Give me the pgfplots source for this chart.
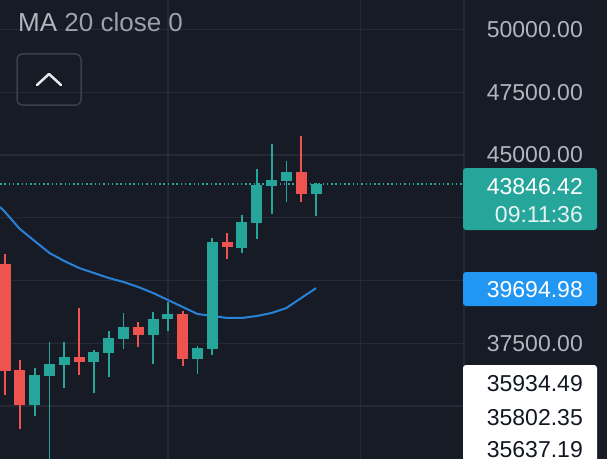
\documentclass[border=0pt]{standalone}
\usepackage{fontspec}
\setmainfont{Liberation Sans}
\usepackage{pgfplots}
\usepackage{pgfplotstable}
\pgfplotsset{compat=1.18}
\definecolor{bg}{HTML}{171B26}
\definecolor{gridc}{HTML}{262A36}
\definecolor{cgreen}{HTML}{26A69A}
\definecolor{cred}{HTML}{EF5350}
\definecolor{maline}{HTML}{2A82D8}
\definecolor{lbl}{HTML}{B2B5BE}
\definecolor{lbldim}{HTML}{9EA1AA}
\definecolor{lblblue}{HTML}{2196F3}
\definecolor{dark}{HTML}{131722}
\definecolor{btn}{HTML}{3B3F4A}
\definecolor{chev}{HTML}{E6E8EE}

% candles: index open high low close
\pgfplotstableread{
x o h l c
0 40657 41056 35438 36395
1 36434 36833 34084 35040
5 36952 38904 36235 36753
9 38148 38347 37351 37829
12 38665 38785 36594 36873
15 41534 41892 40857 41335
20 44323 45757 43128 43446
}\redcandles

\pgfplotstableread{
x o h l c
2 35040 36514 34602 36235
3 36195 37550 32888 36673
4 36634 37550 35717 36952
6 36753 37231 35518 37152
7 37112 37988 36156 37709
8 37669 38705 37271 38148
10 37829 38745 36673 38466
11 38466 39143 37988 38665
13 36873 37391 36275 37311
14 37271 41693 37032 41534
16 41295 42610 41096 42331
17 42291 44442 41653 43805
18 43765 45438 42649 44004
19 43964 44761 43128 44323
21 43446 43884 42570 43846.42
}\greencandles

\pgfplotstableread{
x y
-0.338 42928
0 42729
1 42052
2 41574
3 41096
4 40777
5 40498
6 40299
7 40100
8 39940
9 39741
10 39502
11 39223
12 38944
13 38665
14 38586
15 38506
16 38506
17 38586
18 38705
19 38904
20 39303
21 39694.98
}\maline

\newcommand{\fs}{\fontsize{23}{27}\selectfont}
\pgfplotsset{
  candle/.style={only marks, mark=*, mark size=0pt, color=#1,
    error bars/y dir=both, error bars/y explicit, error bars/error mark=none},
}

\begin{document}
\begin{tikzpicture}
\useasboundingbox (0pt,0pt) rectangle (607pt,459pt);
\fill[bg] (0pt,0pt) rectangle (607pt,459pt);
\begin{axis}[
  at={(0pt,0pt)}, anchor=south west,
  width=464pt, height=459pt, scale only axis,
  xmin=-0.338, xmax=30.99, ymin=32888, ymax=51175,
  clip=false,
  axis line style={draw=none},
  tick style={draw=none},
  xtick={11,24}, ytick={35000,37500,...,50000},
  xticklabels={}, yticklabels={},
  grid=major,
  major grid style={draw=gridc, line width=1.2pt},
]
% MA line
\addplot[maline, line width=2pt, mark=none] table[x=x, y=y] {\maline};
% last price dotted line
\addplot[cgreen, line width=1.5pt, dash pattern=on 1.5pt off 2.8pt, mark=none]
  coordinates {(-0.338,43846.42) (30.99,43846.42)};
% red wicks and bodies
\addplot[candle=cred, error bars/error bar style={draw=cred, line width=1.8pt}]
  table[x=x, y expr={(\thisrow{h}+\thisrow{l})/2}, y error expr={(\thisrow{h}-\thisrow{l})/2}] {\redcandles};
\addplot[candle=cred, error bars/error bar style={draw=cred, line width=11pt}]
  table[x=x, y expr={(\thisrow{o}+\thisrow{c})/2}, y error expr={abs(\thisrow{o}-\thisrow{c})/2}] {\redcandles};
% green wicks and bodies
\addplot[candle=cgreen, error bars/error bar style={draw=cgreen, line width=1.8pt}]
  table[x=x, y expr={(\thisrow{h}+\thisrow{l})/2}, y error expr={(\thisrow{h}-\thisrow{l})/2}] {\greencandles};
\addplot[candle=cgreen, error bars/error bar style={draw=cgreen, line width=11pt}]
  table[x=x, y expr={(\thisrow{o}+\thisrow{c})/2}, y error expr={abs(\thisrow{o}-\thisrow{c})/2}] {\greencandles};
\coordinate (t50) at (axis cs:0,50000);
\coordinate (t475) at (axis cs:0,47500);
\coordinate (t45) at (axis cs:0,45000);
\coordinate (t375) at (axis cs:0,37500);
\end{axis}
\coordinate (xr) at (583pt,0pt);
% price scale separator
\draw[gridc, line width=1.2pt] (464pt,0pt) -- (464pt,459pt);
% price scale labels
\node[anchor=east, inner sep=0pt, text=lbl, font=\fs] at (t50 -| xr) {50000.00};
\node[anchor=east, inner sep=0pt, text=lbl, font=\fs] at (t475 -| xr) {47500.00};
\node[anchor=east, inner sep=0pt, text=lbl, font=\fs] at (t45 -| xr) {45000.00};
\node[anchor=east, inner sep=0pt, text=lbl, font=\fs] at (t375 -| xr) {37500.00};
% last price box
\fill[cgreen, rounded corners=3pt] (463pt,229pt) rectangle (597pt,291pt);
\node[anchor=base east, inner sep=0pt, text=white, font=\fs] at (583pt,265pt) {43846.42};
\node[anchor=base east, inner sep=0pt, text=white!88!cgreen, font=\fs] at (583pt,237pt) {09:11:36};
% MA value box
\fill[lblblue, rounded corners=3pt] (463pt,153pt) rectangle (597pt,187pt);
\node[anchor=base east, inner sep=0pt, text=white, font=\fs] at (583pt,162pt) {39694.98};
% white boxes
\fill[white, rounded corners=3pt] (463pt,-5pt) rectangle (597pt,94pt);
\node[anchor=base east, inner sep=0pt, text=dark, font=\fs] at (583pt,68pt) {35934.49};
\node[anchor=base east, inner sep=0pt, text=dark, font=\fs] at (583pt,34pt) {35802.35};
\node[anchor=base east, inner sep=0pt, text=dark, font=\fs] at (583pt,2pt) {35637.19};
% legend text
\node[anchor=base west, inner sep=0pt, font=\fontsize{26}{30}\selectfont] at (18pt,427pt)
  {\textcolor{lbl}{MA} \textcolor{lbldim}{20 close 0}};
% collapse button
\draw[draw=btn, line width=1.5pt, rounded corners=5pt] (17pt,354pt) rectangle (81pt,405pt);
\draw[chev, line width=2.5pt, line cap=round, line join=round] (37pt,374pt) -- (49pt,385pt) -- (61pt,374pt);
\end{tikzpicture}
\end{document}
